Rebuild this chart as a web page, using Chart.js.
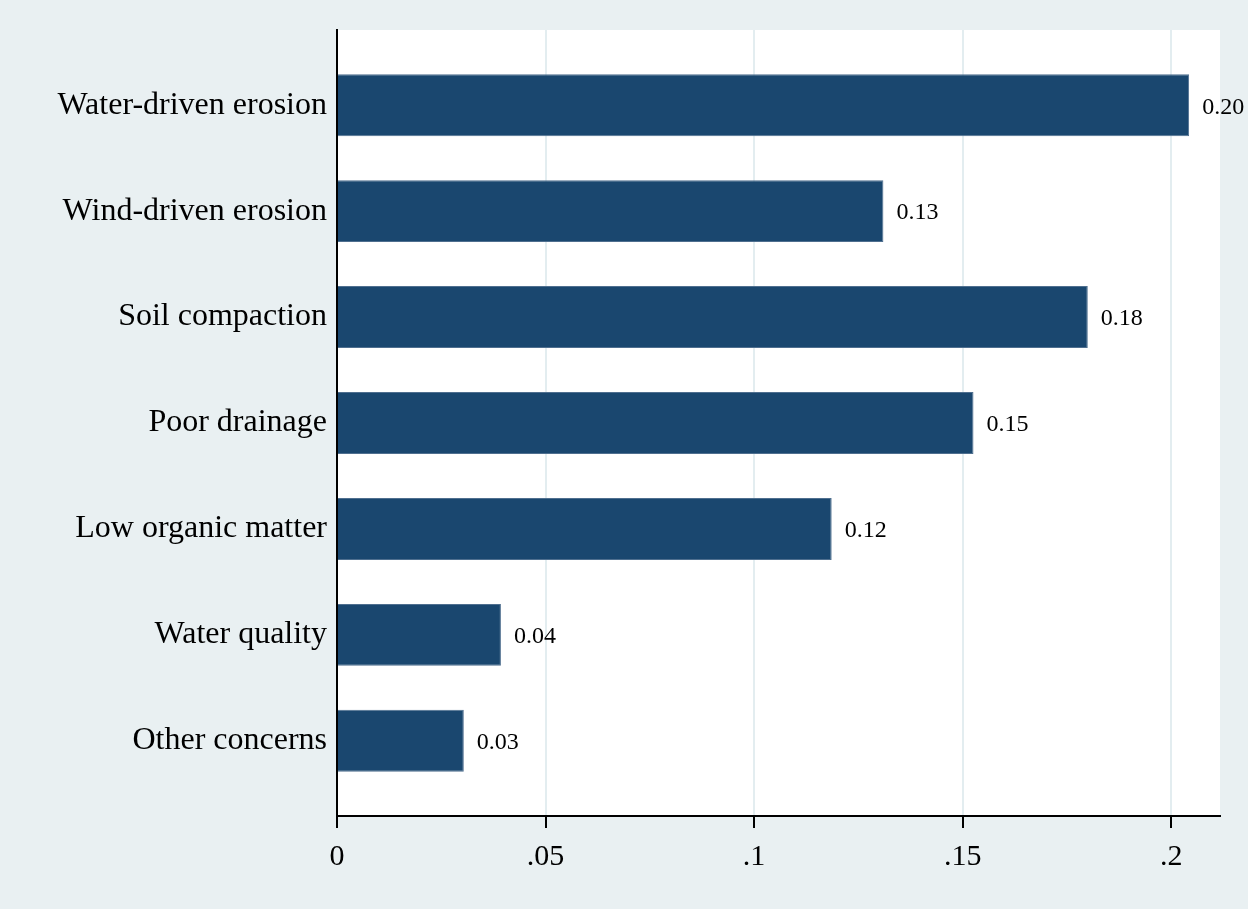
<!DOCTYPE html>
<html>
<head>
<meta charset="utf-8">
<script src="https://cdn.jsdelivr.net/npm/chart.js@4"></script>
<style>
html,body{margin:0;padding:0;background:#e9f0f2}
#wrap{width:1248px;height:909px}
</style>
</head>
<body>
<div id="wrap"><canvas id="c" width="1248" height="909"></canvas></div>
<script>
const categories=['Water-driven erosion','Wind-driven erosion','Soil compaction','Poor drainage','Low organic matter','Water quality','Other concerns']
const values=[0.2043,0.131,0.180,0.1526,0.1186,0.0393,0.0304]
const xTicks=[0,0.05,0.1,0.15,0.2]
const xTickLabels=['0','.05','.1','.15','.2']

const serif='"Liberation Serif","Times New Roman",serif'

// white plot region + value labels at bar ends
const plotBg={
  id:'plotBg',
  beforeDraw(chart){
    const a=chart.chartArea,ctx=chart.ctx
    ctx.save()
    ctx.fillStyle='#fff'
    ctx.fillRect(a.left,a.top,a.right-a.left,a.bottom-a.top)
    ctx.restore()
  },
  afterDatasetsDraw(chart){
    const ctx=chart.ctx
    const meta=chart.getDatasetMeta(0)
    ctx.save()
    ctx.font='24px '+serif
    ctx.fillStyle='#000'
    ctx.textAlign='left'
    ctx.textBaseline='middle'
    meta.data.forEach((bar,i)=>{
      ctx.fillText(values[i].toFixed(2),bar.x+13,bar.y+2)
    })
    ctx.restore()
  }
}

const ctx=document.getElementById('c')
new Chart(ctx,{
  type:'bar',
  data:{
    datasets:[{
      data:values.map((v,i)=>({x:v,y:i})),
      backgroundColor:'#1a476f',
      borderColor:'#4f6f8f',
      borderWidth:1,
      barPercentage:0.65,
      categoryPercentage:0.9
    }]
  },
  options:{
    indexAxis:'y',
    responsive:false,
    animation:false,
    layout:{padding:{top:30,right:28,left:0,bottom:0}},
    plugins:{legend:{display:false},tooltip:{enabled:false}},
    scales:{
      x:{
        type:'linear',
        min:0,
        max:0.2117,
        afterBuildTicks:s=>{s.ticks=xTicks.map(v=>({value:v}))},
        afterFit:s=>{s.height=93},
        border:{display:true,color:'#000',width:2},
        grid:{color:'#e3edf0',lineWidth:2,tickLength:12,tickColor:'#000',tickWidth:2},
        ticks:{
          font:{family:serif,size:30},
          color:'#000',
          padding:11,
          maxRotation:0,
          callback:(v,i)=>xTickLabels[i]
        }
      },
      y:{
        type:'linear',
        reverse:true,
        offset:false,
        min:-0.71,
        max:categories.length-1+0.71,
        afterBuildTicks:s=>{s.ticks=categories.map((c,i)=>({value:i}))},
        afterFit:s=>{s.width=337},
        border:{display:true,color:'#000',width:2},
        grid:{display:false},
        ticks:{
          font:{family:serif,size:32},
          color:'#000',
          padding:2,
          callback:(v)=>categories[v]
        }
      }
    }
  },
  plugins:[plotBg]
})
</script>
</body>
</html>
